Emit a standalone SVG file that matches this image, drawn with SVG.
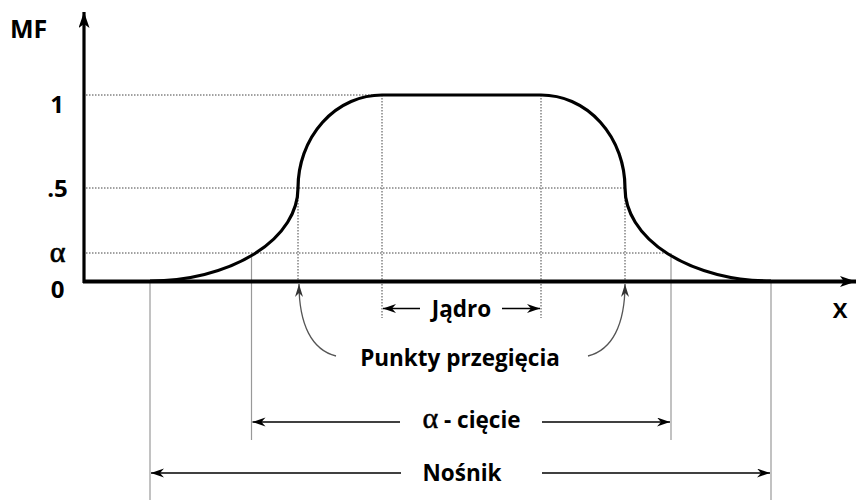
<svg xmlns="http://www.w3.org/2000/svg" width="856" height="500" viewBox="0 0 856 500">
<style>
.lbl{font-family:"Open Sans","Liberation Sans",sans-serif;font-weight:bold;fill:#000}
.gr{font-family:"Liberation Serif","DejaVu Serif",serif;fill:#000}
.dot{stroke:#444;stroke-width:1;stroke-dasharray:1.5 1.5;fill:none}
.sol{stroke:#999;stroke-width:1.2;fill:none}
.arr{stroke:#000;stroke-width:1.3;fill:none;marker-end:url(#ah)}
.carr{stroke:#555;stroke-width:1.3;fill:none;marker-end:url(#ahg)}
</style>
<defs>
<marker id="ah" markerUnits="userSpaceOnUse" markerWidth="14" markerHeight="10" refX="13" refY="4.5" orient="auto">
<path d="M0,0 L13,4.5 L0,9 L4,4.5 z" fill="#000"/>
</marker>
<marker id="ahg" markerUnits="userSpaceOnUse" markerWidth="14" markerHeight="10" refX="13" refY="4" orient="auto">
<path d="M0,0 L13,4 L0,8 L4,4 z" fill="#333"/>
</marker>
<marker id="axh" markerUnits="userSpaceOnUse" markerWidth="18" markerHeight="12" refX="16" refY="5.5" orient="auto">
<path d="M0,0 L16,5.5 L0,11 L4,5.5 z" fill="#000"/>
</marker>
</defs>

<g id="gridlines">
<line class="dot" x1="86" y1="95" x2="382" y2="95"/>
<line class="dot" x1="86" y1="188" x2="625" y2="188"/>
<line class="dot" x1="86" y1="253" x2="668" y2="253"/>
<line class="dot" x1="298" y1="188" x2="298" y2="281"/>
<line class="dot" x1="625" y1="188" x2="625" y2="281"/>
<line class="dot" x1="382" y1="95" x2="382" y2="318"/>
<line class="dot" x1="541" y1="95" x2="541" y2="318"/>
<line class="sol" x1="150" y1="283" x2="150" y2="500"/>
<line class="sol" x1="771" y1="283" x2="771" y2="500"/>
<line class="sol" x1="251.5" y1="253" x2="251.5" y2="440"/>
<line class="sol" x1="671" y1="253" x2="671" y2="440"/>
</g>

<g id="axes">
<line x1="84" y1="283" x2="84" y2="12" stroke="#000" stroke-width="3.2" marker-end="url(#axh)"/>
<line x1="83" y1="281.5" x2="856" y2="281.5" stroke="#000" stroke-width="4" marker-end="url(#axh)"/>
</g>

<g id="curve">
<path d="M150,281 A148 93 0 0 0 298 188 A84 93 0 0 1 382 95 L541,95 A84 93 0 0 1 625 188 A146 93 0 0 0 771 281" fill="none" stroke="#000" stroke-width="3.2"/>
</g>

<g id="connectors">
<line class="arr" x1="420" y1="308.5" x2="383" y2="308.5"/>
<line class="arr" x1="502" y1="308.5" x2="540" y2="308.5"/>
<path class="carr" d="M336,356 C312,350 299,325 299,284"/>
<path class="carr" d="M588,356 C612,350 625,325 625,284"/>
<line class="arr" x1="400" y1="422" x2="252.5" y2="422"/>
<line class="arr" x1="542" y1="422" x2="670" y2="422"/>
<line class="arr" x1="401" y1="473" x2="151" y2="473"/>
<line class="arr" x1="542" y1="473" x2="770" y2="473"/>
</g>

<g id="axis-labels">
<text class="lbl" x="10" y="38" font-size="25">MF</text>
<text class="lbl" x="57" y="113" font-size="24" text-anchor="middle">1</text>
<text class="lbl" x="57.5" y="197" font-size="24" text-anchor="middle">.5</text>
<text class="gr" x="57.5" y="262" font-size="30" text-anchor="middle" stroke="#000" stroke-width="0.7">α</text>
<text class="lbl" x="57.5" y="298" font-size="24" text-anchor="middle">0</text>
<text class="lbl" x="840" y="318" font-size="22" text-anchor="middle">X</text>
</g>

<g id="labels">
<text class="lbl" x="461.5" y="317" font-size="22.5" text-anchor="middle">Jądro</text>
<text class="lbl" x="460" y="366" font-size="22.5" text-anchor="middle">Punkty przegięcia</text>
<text class="lbl" x="471.5" y="428" font-size="22.5" text-anchor="middle"><tspan class="gr" font-weight="normal" font-size="30" stroke="#000" stroke-width="0.5">α</tspan> - cięcie</text>
<text class="lbl" x="462" y="481" font-size="22.5" text-anchor="middle">Nośnik</text>
</g>
</svg>
